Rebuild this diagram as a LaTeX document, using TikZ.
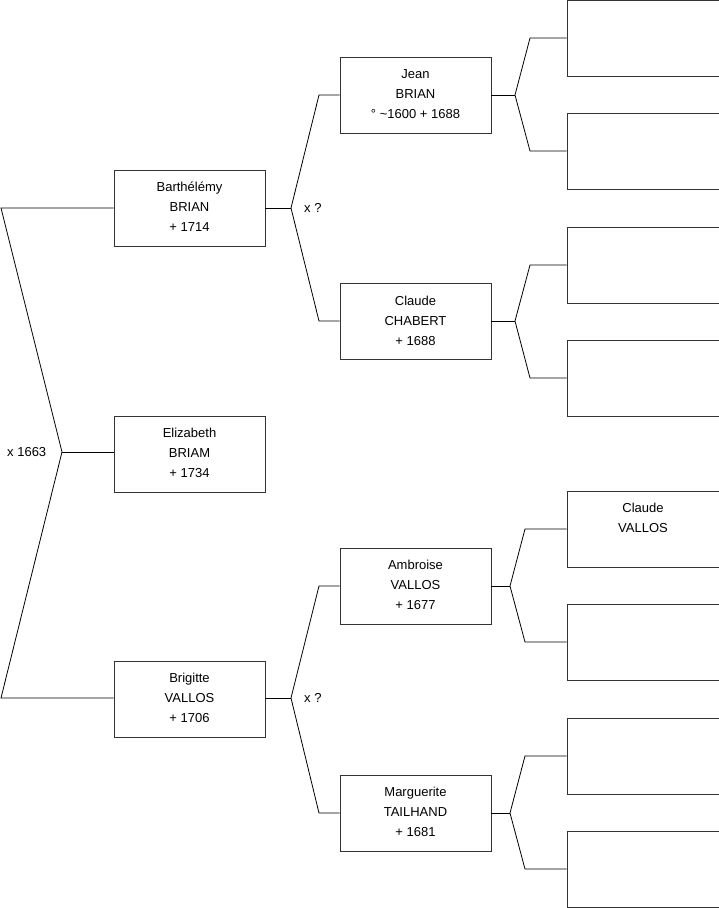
\documentclass[tikz,border=0pt]{standalone}
\usepackage{fontspec}
\setmainfont{Liberation Sans}
\begin{document}
\begin{tikzpicture}[x=1pt,y=-1pt,
  person/.style={draw=black!80,line width=0.9pt,minimum width=151pt,minimum height=76pt,
    inner sep=0pt,align=center,font=\fontsize{13pt}{20pt}\selectfont,text depth=2pt},
  blank/.style={draw=black!80,line width=0.9pt,minimum width=152pt,minimum height=76pt,inner sep=0pt},
  link/.style={draw=black,line width=0.8pt},
  lbl/.style={font=\fontsize{13pt}{15pt}\selectfont,inner sep=0pt}]
\useasboundingbox (0,0) rectangle (719,908);
% generation 1
\node[person] (barth) at (189.5,208) {Barthélémy\\BRIAN\\+ 1714};
\node[person] (eliz) at (189.5,454) {Elizabeth\\BRIAM\\+ 1734};
\node[person] (brig) at (189.5,699) {Brigitte\\VALLOS\\+ 1706};
% generation 2
\node[person] (jean) at (415.5,95) {Jean\\BRIAN\\° \textasciitilde1600 + 1688};
\node[person] (claudec) at (415.5,321.5) {Claude\\CHABERT\\+ 1688};
\node[person] (ambr) at (415.5,586) {Ambroise\\VALLOS\\+ 1677};
\node[person] (marg) at (415.5,813) {Marguerite\\TAILHAND\\+ 1681};
% generation 3
\node[blank] (b1) at (643,38) {};
\node[blank] (b2) at (643,151) {};
\node[blank] (b3) at (643,265) {};
\node[blank] (b4) at (643,378) {};
\node[person,minimum width=152pt] (claudev) at (643,529) {Claude\\VALLOS\\\mbox{}};
\node[blank] (b6) at (643,642) {};
\node[blank] (b7) at (643,756) {};
\node[blank] (b8) at (643,869) {};
% bracket coordinates
\coordinate (l0) at (1,208);
\coordinate (lm) at (62,452);
\coordinate (l1) at (1,698);
\coordinate (bm) at (291,208);
\coordinate (bu) at (319,95);
\coordinate (bd) at (319,321);
\coordinate (gm) at (291,698);
\coordinate (gu) at (319,586);
\coordinate (gd) at (319,813);
\coordinate (jm) at (515,95);
\coordinate (ju) at (530,38);
\coordinate (jd) at (530,151);
\coordinate (cm) at (515,321);
\coordinate (cu) at (530,265);
\coordinate (cd) at (530,378);
\coordinate (am) at (510,586);
\coordinate (au) at (525,529);
\coordinate (ad) at (525,642);
\coordinate (mm) at (510,813);
\coordinate (mu) at (525,756);
\coordinate (md) at (525,869);
% connectors
\draw[link] (barth.west) -- (l0) -- (lm) -- (l1) -- (brig.west |- l1);
\draw[link] (lm) -- (eliz.west |- lm);
\draw[link] (barth.east) -- (bm);
\draw[link] (jean.west) -- (bu) -- (bm) -- (bd) -- (claudec.west |- bd);
\draw[link] (brig.east |- gm) -- (gm);
\draw[link] (ambr.west) -- (gu) -- (gm) -- (gd) -- (marg.west);
\draw[link] (jean.east) -- (jm);
\draw[link] (b1.west) -- (ju) -- (jm) -- (jd) -- (b2.west);
\draw[link] (claudec.east |- cm) -- (cm);
\draw[link] (b3.west) -- (cu) -- (cm) -- (cd) -- (b4.west);
\draw[link] (ambr.east) -- (am);
\draw[link] (claudev.west) -- (au) -- (am) -- (ad) -- (b6.west);
\draw[link] (marg.east) -- (mm);
\draw[link] (b7.west) -- (mu) -- (mm) -- (md) -- (b8.west);
% labels
\node[lbl,anchor=west] (m1) at (7,452) {x 1663};
\node[lbl,anchor=west] (m2) at (304,208) {x ?};
\node[lbl,anchor=west] (m3) at (304,698) {x ?};
\end{tikzpicture}
\end{document}
